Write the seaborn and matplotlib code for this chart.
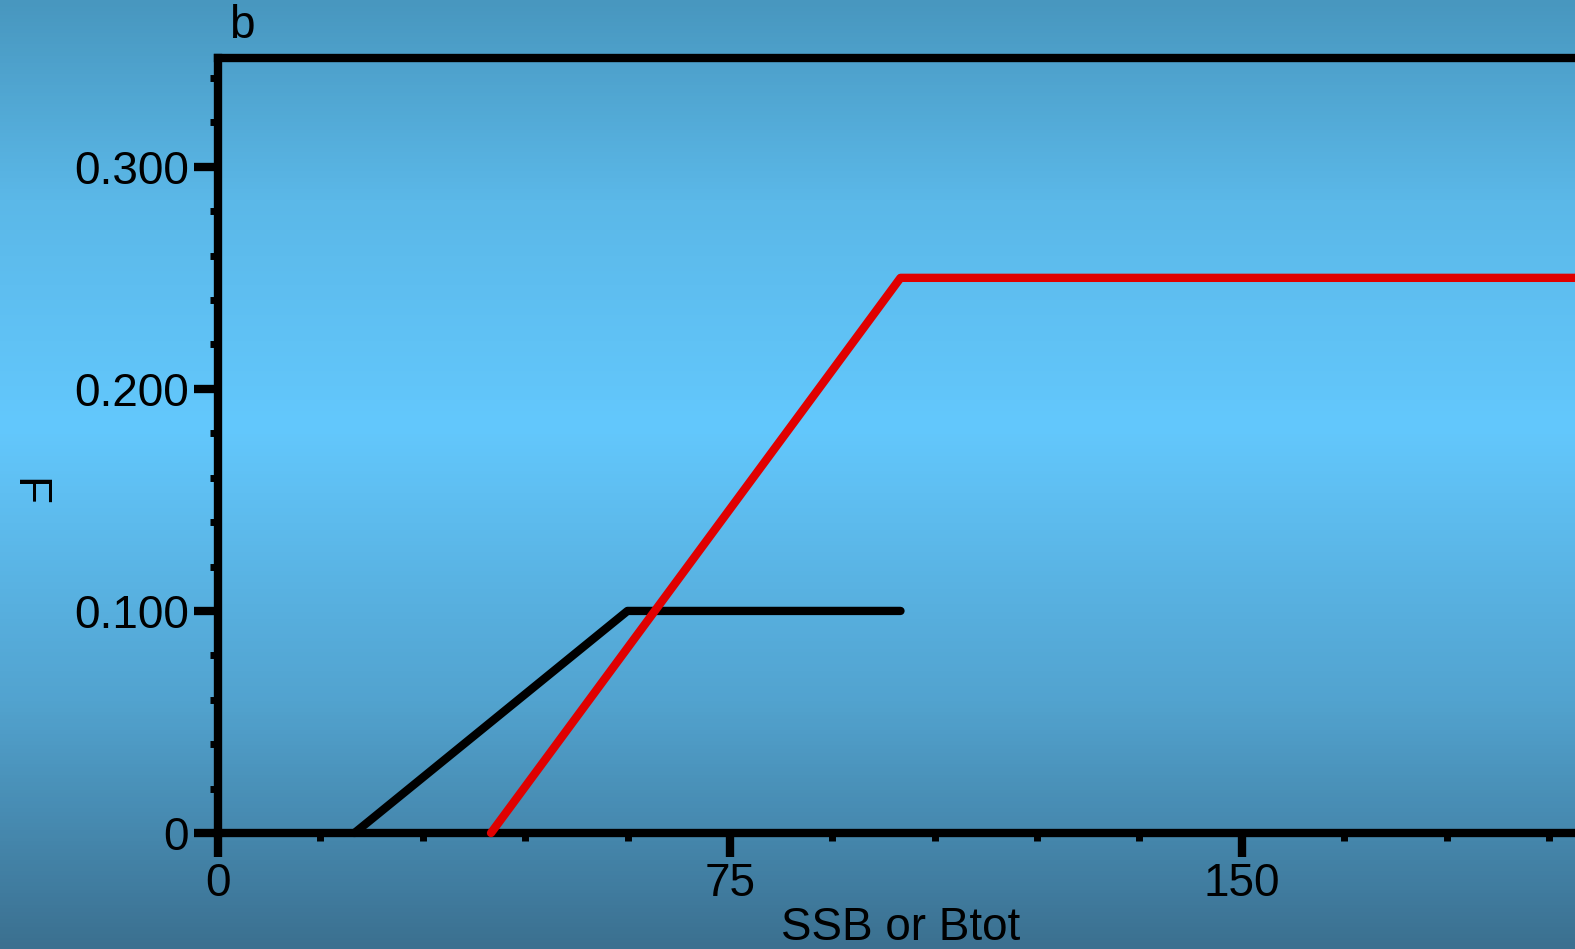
import numpy as np
import pandas as pd
import matplotlib
matplotlib.use("Agg")
import matplotlib.pyplot as plt
from matplotlib.colors import LinearSegmentedColormap
import seaborn as sns

# dati
ssb_black = [20, 60, 100]
f_black = [0.0, 0.1, 0.1]
ssb_red = [40, 100, 200]
f_red = [0.0, 0.25, 0.25]

x_major = [0, 75, 150]
x_labels = ["0", "75", "150"]
y_major = [0, 0.1, 0.2, 0.3]
y_labels = ["0", "0.100", "0.200", "0.300"]

sns.set_style("ticks")
plt.rcParams['font.family'] = ['Liberation Sans', 'DejaVu Sans']
plt.rcParams['text.color'] = 'black'
plt.rcParams['axes.labelcolor'] = 'black'

fig = plt.figure(figsize=(15.75, 9.49), dpi=100)

# sfondo sfumato
bg = fig.add_axes([0, 0, 1, 1], zorder=-10)
cmap = LinearSegmentedColormap.from_list(
    "bg",
    [(0.0, "#4897bf"), (0.21, "#5bb8e8"), (0.45, "#63c8fd"),
     (0.74, "#52a3cf"), (1.0, "#3b7090")]
)
grad = np.linspace(0, 1, 256).reshape(-1, 1)
bg.imshow(grad, aspect="auto", cmap=cmap, extent=[0, 1, 0, 1], origin="upper")
bg.axis("off")

ax = fig.add_axes([218 / 1575, 1 - 833 / 949, 1365 / 1575, 775 / 949])
ax.set_facecolor("none")

df_black = pd.DataFrame({"SSB": ssb_black, "F": f_black})
df_red = pd.DataFrame({"SSB": ssb_red, "F": f_red})

sns.lineplot(data=df_black, x="SSB", y="F", ax=ax, color="black",
             linewidth=6, solid_capstyle="round", solid_joinstyle="round",
             clip_on=False, zorder=5)
sns.lineplot(data=df_red, x="SSB", y="F", ax=ax, color="#e00000",
             linewidth=6, solid_capstyle="round", solid_joinstyle="round",
             clip_on=False, zorder=6)

ax.set_xlim(0, 200)
ax.set_ylim(0, 0.349)

ax.set_xticks(x_major)
ax.set_xticklabels(x_labels)
ax.set_xticks(np.arange(0, 200, 15), minor=True)
ax.set_yticks(y_major)
ax.set_yticklabels(y_labels)
ax.set_yticks(np.arange(0, 0.349, 0.02), minor=True)

for s in ax.spines.values():
    s.set_linewidth(6)
    s.set_color("black")

ax.tick_params(which="major", length=17, width=6, direction="out",
               labelsize=33, pad=4, colors="black")
ax.tick_params(which="minor", length=6, width=5, direction="out",
               colors="black")

ax.set_xlabel("SSB or Btot", fontsize=33, labelpad=0)
ax.set_ylabel("F", fontsize=33, rotation=-90, va="center", ha="center")
ax.yaxis.set_label_coords(-0.14, 0.44)

fig.text(242 / 1575, 1 - 26 / 949, "b", fontsize=33, ha="center", va="center")

fig.savefig("out.png", dpi=100)
